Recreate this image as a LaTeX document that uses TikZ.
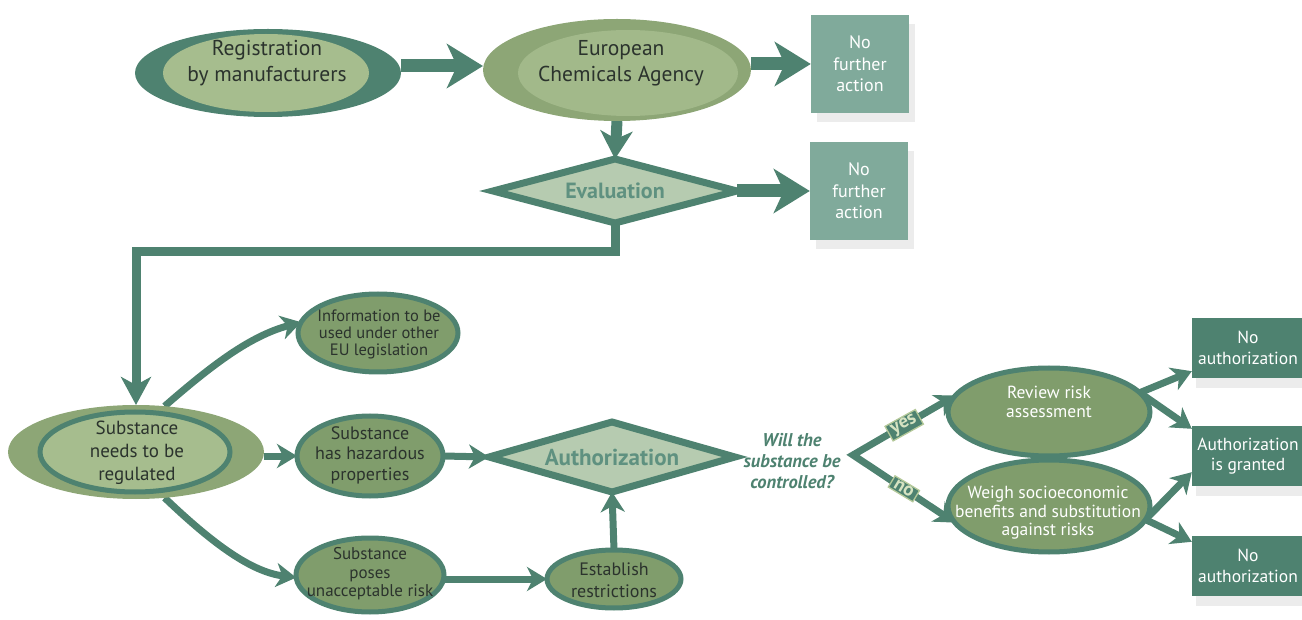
\documentclass[tikz,border=0pt]{standalone}
\usepackage{fontspec}
\setmainfont{PT Sans}
\usetikzlibrary{shapes.geometric,arrows.meta,shadows,backgrounds}
\definecolor{dk}{HTML}{4E8270}
\definecolor{lt}{HTML}{A6BD8E}
\definecolor{ol}{HTML}{8DA676}
\definecolor{olin}{HTML}{A2B98A}
\definecolor{md}{HTML}{809D6C}
\definecolor{dia}{HTML}{B6CBB0}
\definecolor{diat}{HTML}{5F9180}
\definecolor{bx}{HTML}{80AA9B}
\definecolor{tx}{HTML}{2B332D}
\definecolor{lbl}{HTML}{D6E3C2}
\definecolor{lblb}{HTML}{B5C99A}
\begin{document}
\begin{tikzpicture}[x=1pt,y=-1pt,
  elli/.style={ellipse, inner sep=0pt, outer sep=0pt},
  tt/.style={align=center, text=tx, inner sep=0pt},
  wt/.style={align=center, text=white, inner sep=0pt},
  bigarr/.style={draw=dk, line width=13pt, -{Stealth[length=36pt,width=44pt,inset=10pt]}},
  midarr/.style={draw=dk, line width=11pt, -{Stealth[length=28pt,width=32pt,inset=8pt]}},
  elbarr/.style={draw=dk, line width=9pt, line join=miter, -{Stealth[length=28pt,width=30pt,inset=8pt]}},
  arr/.style={draw=dk, line width=7pt, -{Stealth[length=20pt,width=24pt,inset=6pt]}},
  gbox/.style={rectangle, fill=bx, text=white, minimum width=98pt, minimum height=98pt, inner sep=0pt, align=center, font=\fontsize{18}{21.5}\selectfont, drop shadow={shadow xshift=6pt, shadow yshift=-9pt, opacity=0.15}},
  dbox/.style={rectangle, fill=dk, text=white, minimum width=112pt, minimum height=60pt, inner sep=0pt, align=center, font=\fontsize{17.5}{20.5}\selectfont, drop shadow={shadow xshift=4pt, shadow yshift=-10pt, opacity=0.15}},
  lnode/.style={elli, draw=dk, line width=5pt, fill=md},
  diam/.style={diamond, draw=dk, line width=7pt, fill=dia, inner sep=0pt, outer sep=0pt},
  diat/.style={text=diat, inner sep=0pt, font=\bfseries\fontsize{22}{24}\selectfont},
  yn/.style={rectangle, fill=dk, draw=lblb, line width=1.3pt, text=lbl, inner xsep=4pt, inner ysep=1.5pt, font=\bfseries\fontsize{19}{19}\selectfont}
]
\useasboundingbox (0,0) rectangle (1302,620);

% ---- top row
\node[elli, fill=dk, minimum width=266pt, minimum height=88pt] (regout) at (268,73) {};
\node[elli, fill=lt, minimum width=206pt, minimum height=78pt] (reg) at (266,73) {};
\node[tt, font=\fontsize{21.5}{26}\selectfont] (regt) at (267,63) {Registration\\by manufacturers};

\node[elli, fill=ol, minimum width=268pt, minimum height=102pt] (ecaout) at (617,70) {};
\node[elli, fill=olin, minimum width=220pt, minimum height=86pt] (eca) at (628,73) {};
\node[tt, font=\fontsize{21.5}{26}\selectfont] (ecat) at (621,63) {European\\Chemicals Agency};

\node[gbox] (box1) at (860,64) {No\\further\\action};

\node[diam, minimum width=244pt, minimum height=64pt] (eval) at (615,191) {};
\node[diat] (evalt) at (eval) {Evaluation};

\node[gbox] (box2) at (859,191) {No\\further\\action};

% ---- middle row
\node[elli, fill=ol, minimum width=256pt, minimum height=94pt] (subout) at (136,452) {};
\node[elli, fill=lt, draw=dk, line width=5pt, minimum width=190pt, minimum height=80pt] (sub) at (135,452) {};
\node[tt, font=\fontsize{19}{23}\selectfont] (subt) at (137,453) {Substance\\needs to be\\regulated};

\node[lnode, minimum width=160pt, minimum height=78pt] (info) at (378,333) {};
\node[tt, font=\fontsize{16.5}{17}\selectfont] (infot) at (379,334) {Information to be\\used under other\\EU legislation};

\node[lnode, minimum width=146pt, minimum height=80pt] (haz) at (370,456) {};
\node[tt, font=\fontsize{18}{20.5}\selectfont] (hazt) at (370,455) {Substance\\has hazardous\\properties};

\node[diam, minimum width=246pt, minimum height=70pt] (auth) at (612,457) {};
\node[diat, font=\bfseries\fontsize{23}{26}\selectfont] (autht) at (auth) {Authorization};

\node[lnode, minimum width=148pt, minimum height=74pt] (pose) at (370,575) {};
\node[tt, font=\fontsize{17}{18.5}\selectfont] (poset) at (370,574) {Substance\\poses\\unacceptable risk};

\node[lnode, minimum width=134pt, minimum height=58pt] (est) at (614,579) {};
\node[tt, font=\fontsize{18}{22}\selectfont] (estt) at (614,580) {Establish\\restrictions};

\node[align=center, text=dk, inner sep=0pt, font=\bfseries\itshape\fontsize{18.5}{21}\selectfont] (q) at (792,461) {Will the\\substance be\\controlled?};

\node[lnode, minimum width=202pt, minimum height=88pt] (rev) at (1049,412) {};
\node[wt, font=\fontsize{17.5}{19}\selectfont] (revt) at (1049,402) {Review risk\\assessment};

\node[lnode, minimum width=202pt, minimum height=92pt] (wei) at (1049,506) {};
\node[wt, font=\fontsize{17.5}{18.5}\selectfont] (weit) at (1048,513) {Weigh socioeconomic\\benefits and substitution\\against risks};

\node[dbox] (nA) at (1248,348) {No\\authorization};
\node[dbox] (nB) at (1248,456) {Authorization\\is granted};
\node[dbox] (nC) at (1248,566) {No\\authorization};

\coordinate (elb) at (136,252);
\coordinate (br) at (853,455);

% ---- connectors
\begin{scope}[on background layer]
\draw[bigarr] ([yshift=7pt]regout.east) -- ([yshift=7pt]regout.east -| ecaout.west);
\draw[bigarr] (ecaout.east |- box1.west) -- (box1.west);
\draw[midarr] (ecaout.south) -- (eval.north);
\draw[bigarr] (eval.east) -- (box2.west |- eval.east);
\draw[elbarr] (eval.south) |- (elb) -- (subout.north);
\draw[arr] (subout.58) .. controls (212,365) and (250,336) .. (info.172);
\draw[arr] (subout.east |- haz.west) -- (haz.west);
\draw[arr] (subout.-58) .. controls (214,545) and (252,572) .. (pose.182);
\draw[arr] (haz.east) -- (auth.west);
\draw[arr] (pose.east |- est.west) -- (est.west);
\draw[arr] (est.north) -- (auth.south);
\draw[draw=dk, line width=7pt, line join=miter, {Stealth[length=20pt,width=24pt,inset=6pt]}-{Stealth[length=20pt,width=24pt,inset=6pt]}]
  (rev.170) -- node[yn, rotate=29] (yes) {yes} (br) -- node[yn, rotate=-31] (no) {no} (wei.190);
\draw[arr] (rev.12) -- ([yshift=7pt]nA.south west);
\draw[arr] (rev.12) -- ([yshift=-3pt]nB.north west);
\draw[arr] (wei.-8) -- ([yshift=14pt]nB.south west);
\draw[arr] (wei.-8) -- ([yshift=-6pt]nC.north west);
\end{scope}
\end{tikzpicture}
\end{document}
